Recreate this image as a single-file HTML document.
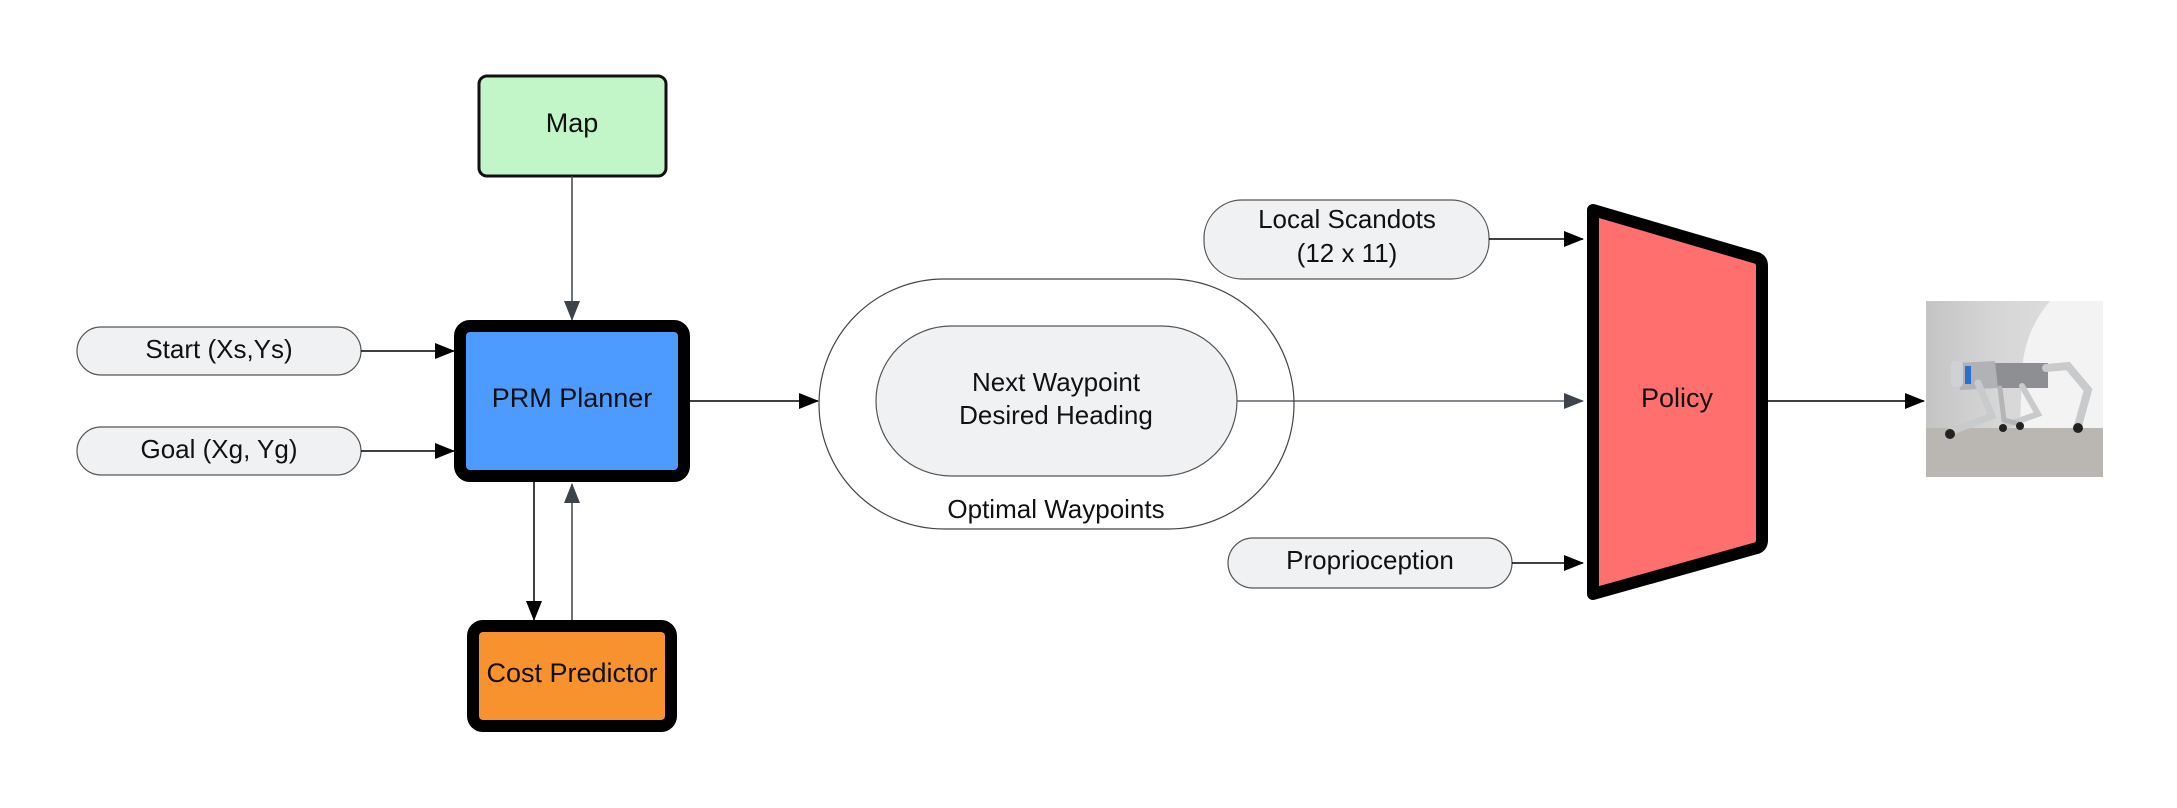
<!DOCTYPE html>
<html><head><meta charset="utf-8"><style>
html,body{margin:0;padding:0;background:#fff;}
svg{display:block;}
text{font-family:"Liberation Sans",sans-serif;fill:#111;}
</style></head><body>
<svg width="2177" height="808" viewBox="0 0 2177 808" xmlns="http://www.w3.org/2000/svg">
<defs>
<marker id="abig" markerWidth="20" markerHeight="16" refX="19" refY="8" orient="auto" markerUnits="userSpaceOnUse"><path d="M0,0 L20,8 L0,16 Z" fill="#000"/></marker>
<marker id="agbig" markerWidth="20" markerHeight="16" refX="19" refY="8" orient="auto" markerUnits="userSpaceOnUse"><path d="M0,0 L20,8 L0,16 Z" fill="#3d434a"/></marker>
<linearGradient id="bg" x1="0" y1="0" x2="1" y2="0"><stop offset="0" stop-color="#c4c4c4"/><stop offset="0.4" stop-color="#d6d6d6"/><stop offset="1" stop-color="#e2e2e2"/></linearGradient>
</defs>

<rect x="479" y="76" width="187" height="100" rx="8" fill="#c2f5c8" stroke="#111" stroke-width="3"/>
<text x="572" y="132" font-size="27" text-anchor="middle">Map</text>
<line x1="572" y1="176" x2="572" y2="320" stroke="#3d434a" stroke-width="1.5" marker-end="url(#agbig)"/>

<rect x="460" y="326" width="224" height="150" rx="10" fill="#4d9bff" stroke="#000" stroke-width="12"/>
<text x="572" y="407" font-size="27" text-anchor="middle">PRM Planner</text>

<rect x="473" y="626" width="198" height="100" rx="10" fill="#f7922e" stroke="#000" stroke-width="12"/>
<text x="572" y="682" font-size="27" text-anchor="middle">Cost Predictor</text>

<line x1="534" y1="482" x2="534" y2="620" stroke="#000" stroke-width="1.5" marker-end="url(#abig)"/>
<line x1="572" y1="620" x2="572" y2="484" stroke="#3d434a" stroke-width="1.5" marker-end="url(#agbig)"/>

<rect x="77" y="327" width="284" height="48" rx="24" fill="#f0f1f3" stroke="#555" stroke-width="1.2"/>
<text x="219" y="358" font-size="26" text-anchor="middle">Start (Xs,Ys)</text>
<rect x="77" y="427" width="284" height="48" rx="24" fill="#f0f1f3" stroke="#555" stroke-width="1.2"/>
<text x="219" y="458" font-size="26" text-anchor="middle">Goal (Xg, Yg)</text>
<line x1="361" y1="351" x2="454" y2="351" stroke="#000" stroke-width="1.5" marker-end="url(#abig)"/>
<line x1="361" y1="451" x2="454" y2="451" stroke="#000" stroke-width="1.5" marker-end="url(#abig)"/>

<line x1="690" y1="401" x2="818" y2="401" stroke="#000" stroke-width="1.5" marker-end="url(#abig)"/>

<rect x="819" y="279" width="475" height="250" rx="125" fill="#fff" stroke="#444" stroke-width="1.2"/>
<rect x="876" y="326" width="361" height="150" rx="75" fill="#f0f1f3" stroke="#555" stroke-width="1.2"/>
<text x="1056" y="391" font-size="26" text-anchor="middle">Next Waypoint</text>
<text x="1056" y="424" font-size="26" text-anchor="middle">Desired Heading</text>
<text x="1056" y="518" font-size="26" text-anchor="middle">Optimal Waypoints</text>

<line x1="1237" y1="401" x2="1583" y2="401" stroke="#3d434a" stroke-width="1.2" marker-end="url(#agbig)"/>

<rect x="1204" y="200" width="285" height="79" rx="38" fill="#f0f1f3" stroke="#555" stroke-width="1.2"/>
<text x="1347" y="228" font-size="26" text-anchor="middle">Local Scandots</text>
<text x="1347" y="262" font-size="26" text-anchor="middle">(12 x 11)</text>
<line x1="1489" y1="239" x2="1583" y2="239" stroke="#000" stroke-width="1.5" marker-end="url(#abig)"/>

<rect x="1228" y="538" width="284" height="50" rx="25" fill="#f0f1f3" stroke="#555" stroke-width="1.2"/>
<text x="1370" y="569" font-size="26" text-anchor="middle">Proprioception</text>
<line x1="1512" y1="563" x2="1583" y2="563" stroke="#000" stroke-width="1.5" marker-end="url(#abig)"/>

<path d="M1593,210 L1757,258 Q1762,260 1762,266 L1762,540 Q1762,546 1757,548 L1593,594 Z" fill="#ff6f6e" stroke="#000" stroke-width="12" stroke-linejoin="round"/>
<text x="1677" y="407" font-size="27" text-anchor="middle">Policy</text>

<line x1="1768" y1="401" x2="1924" y2="401" stroke="#000" stroke-width="1.5" marker-end="url(#abig)"/>

<g>
<rect x="1926" y="301" width="177" height="176" fill="url(#bg)"/>
<path d="M2050,301 Q2025,330 2022,370 L2020,430 L2103,430 L2103,301 Z" fill="#f3f3f3"/>
<rect x="1926" y="428" width="177" height="49" fill="#bab7b2"/>
<path d="M1990,363 L2048,363 L2048,388 L1990,388 Z" fill="#8d8f93"/>
<path d="M1958,363 L1995,361 L1998,388 L1960,390 Z" fill="#b0b2b6"/>
<rect x="1951" y="361" width="12" height="26" rx="4" fill="#cfd1d4"/>
<rect x="1965" y="366" width="6" height="18" fill="#2a6fd0"/>
<path d="M2046,368 L2068,366 L2088,390 L2078,426" stroke="#c9cacc" stroke-width="8" fill="none" stroke-linecap="round"/>
<path d="M2022,386 L2038,414 L2004,426" stroke="#c9cacc" stroke-width="6" fill="none" stroke-linecap="round"/>
<path d="M1978,383 L1992,416 L1950,432" stroke="#c9cacc" stroke-width="7" fill="none" stroke-linecap="round"/>
<path d="M2000,388 L2004,420 L2020,424" stroke="#b4b5b7" stroke-width="5" fill="none" stroke-linecap="round"/>
<circle cx="1950" cy="434" r="5" fill="#222"/><circle cx="2003" cy="428" r="4" fill="#222"/><circle cx="2020" cy="426" r="4" fill="#222"/><circle cx="2078" cy="428" r="5" fill="#222"/>
</g>
</svg>
</body></html>
